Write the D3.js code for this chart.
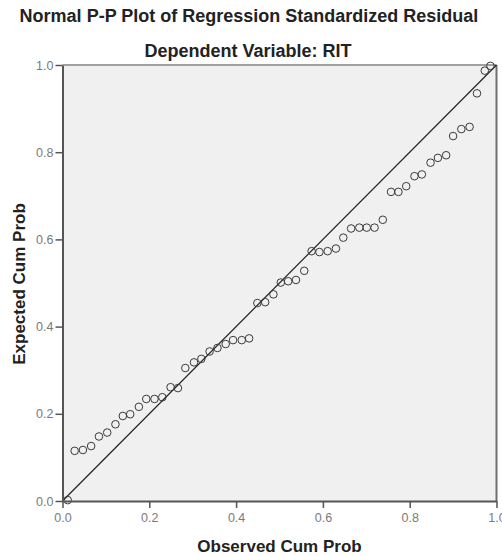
<!DOCTYPE html>
<html>
<head>
<meta charset="utf-8">
<script src="https://cdn.jsdelivr.net/npm/d3@7"></script>
<style>
  body { margin: 0; background: #fff; }
  svg { display: block; font-family: "Liberation Sans", Arial, sans-serif; }
</style>
</head>
<body>
<script>
// observed vs expected cumulative probability
var observed = [0.012, 0.028, 0.047, 0.066, 0.084, 0.103, 0.122, 0.139, 0.156, 0.176,
                0.193, 0.212, 0.230, 0.249, 0.266, 0.283, 0.303, 0.320, 0.339, 0.357,
                0.376, 0.393, 0.413, 0.430, 0.449, 0.467, 0.486, 0.503, 0.520, 0.538,
                0.557, 0.574, 0.592, 0.611, 0.630, 0.647, 0.665, 0.684, 0.701, 0.719,
                0.738, 0.757, 0.774, 0.792, 0.811, 0.828, 0.848, 0.865, 0.884, 0.900,
                0.919, 0.938, 0.955, 0.973, 0.986];
var expected = [0.002, 0.115, 0.117, 0.126, 0.148, 0.157, 0.176, 0.195, 0.199, 0.216,
                0.234, 0.234, 0.238, 0.261, 0.259, 0.305, 0.318, 0.326, 0.343, 0.351,
                0.360, 0.369, 0.369, 0.373, 0.454, 0.456, 0.474, 0.501, 0.504, 0.507,
                0.528, 0.573, 0.571, 0.573, 0.579, 0.604, 0.625, 0.627, 0.627, 0.627,
                0.645, 0.709, 0.709, 0.722, 0.745, 0.749, 0.776, 0.787, 0.793, 0.837,
                0.853, 0.858, 0.935, 0.987, 0.998];
var tickValues = [0, 0.2, 0.4, 0.6, 0.8, 1.0];

var points = observed.map(function(d, i) { return {obs: d, exp: expected[i]}; });

var width = 502, height = 556;
var margin = {top: 65, right: 5.5, bottom: 55, left: 62.5};

var svg = d3.select("body").append("svg")
    .attr("width", width)
    .attr("height", height);

var xScale = d3.scaleLinear()
    .domain([0, 1])
    .range([margin.left, width - margin.right]);

var yScale = d3.scaleLinear()
    .domain([0, 1])
    .range([height - margin.bottom, margin.top]);

// plot background + frame
svg.append("rect")
   .attr("x", xScale(0))
   .attr("y", yScale(1))
   .attr("width", xScale(1) - xScale(0))
   .attr("height", yScale(0) - yScale(1))
   .attr("fill", "#f0f0f0");

svg.append("line")
   .attr("x1", xScale(0)).attr("x2", xScale(1))
   .attr("y1", yScale(1)).attr("y2", yScale(1))
   .attr("stroke", "#a0a0a0").attr("stroke-width", 2);
svg.append("line")
   .attr("x1", xScale(1)).attr("x2", xScale(1))
   .attr("y1", yScale(1)).attr("y2", yScale(0))
   .attr("stroke", "#707070").attr("stroke-width", 2);

// reference line
var line = d3.line()
    .x(function(d) { return xScale(d.obs); })
    .y(function(d) { return yScale(d.exp); });

svg.append("path")
   .attr("d", line([{obs: 0, exp: 0}, {obs: 1, exp: 1}]))
   .attr("stroke", "#222")
   .attr("stroke-width", 1.2)
   .attr("fill", "none");

// points
svg.append("g")
   .selectAll("circle")
   .data(points)
   .enter().append("circle")
   .attr("cx", function(d) { return xScale(d.obs); })
   .attr("cy", function(d) { return yScale(d.exp); })
   .attr("r", 3.8)
   .attr("fill", "none")
   .attr("stroke", "#3a3a3a")
   .attr("stroke-width", 1);

// axes
var fmt = d3.format(".1f");
var xAxis = svg.append("g")
   .attr("transform", "translate(0," + yScale(0) + ")")
   .call(d3.axisBottom(xScale).tickValues(tickValues).tickFormat(fmt).tickSize(7).tickSizeOuter(0));
var yAxis = svg.append("g")
   .attr("transform", "translate(" + xScale(0) + ",0)")
   .call(d3.axisLeft(yScale).tickValues(tickValues).tickFormat(fmt).tickSize(7).tickSizeOuter(0));

[xAxis, yAxis].forEach(function(ax) {
  ax.select(".domain").attr("stroke", "#555").attr("stroke-width", 2);
  ax.selectAll(".tick line").attr("stroke", "#555").attr("stroke-width", 1.5);
  ax.selectAll(".tick text")
    .attr("fill", "#7a7a7a")
    .style("font-family", "'Liberation Sans', Arial, sans-serif")
    .style("font-size", "12.5px");
});
xAxis.selectAll(".tick text").attr("y", 12).attr("dy", "0.71em");
yAxis.selectAll(".tick text").attr("x", -9);

// titles
svg.append("text")
   .attr("x", 249)
   .attr("y", 21.5)
   .attr("text-anchor", "middle")
   .style("font-weight", "bold")
   .style("font-size", "18px")
   .attr("fill", "#222")
   .text("Normal P-P Plot of Regression Standardized Residual");

svg.append("text")
   .attr("x", 248)
   .attr("y", 56.5)
   .attr("text-anchor", "middle")
   .style("font-weight", "bold")
   .style("font-size", "18px")
   .attr("fill", "#222")
   .text("Dependent Variable: RIT");

// X label
svg.append("text")
   .attr("x", (xScale(0) + xScale(1)) / 2)
   .attr("y", 551.5)
   .attr("text-anchor", "middle")
   .style("font-weight", "bold")
   .style("font-size", "17px")
   .attr("fill", "#222")
   .text("Observed Cum Prob");

// Y label
svg.append("text")
   .attr("transform", "rotate(-90)")
   .attr("x", -284)
   .attr("y", 25)
   .attr("text-anchor", "middle")
   .style("font-weight", "bold")
   .style("font-size", "17px")
   .attr("fill", "#222")
   .text("Expected Cum Prob");
</script>
</body>
</html>
